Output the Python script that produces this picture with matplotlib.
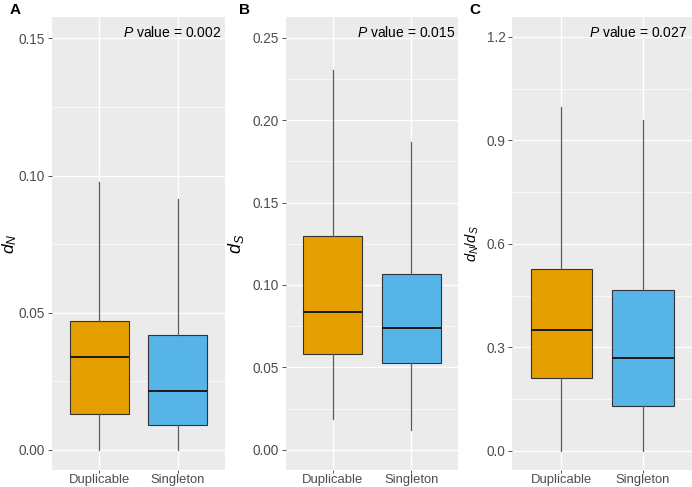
import matplotlib
matplotlib.use("Agg")
import matplotlib.pyplot as plt
import numpy as np

plt.rcParams['font.family'] = ['Liberation Sans', 'DejaVu Sans']
plt.rcParams['mathtext.fontset'] = 'custom'
plt.rcParams['mathtext.it'] = 'Liberation Sans:italic'
plt.rcParams['mathtext.rm'] = 'Liberation Sans'

categories = ["Duplicable", "Singleton"]
colors = ["#E69F00", "#56B4E9"]

# per panel: [low whisker, Q1, median, Q3, high whisker] per category
dN_dup = [0.0, 0.0131, 0.0340, 0.0469, 0.0975]
dN_sing = [0.0, 0.0092, 0.0215, 0.0420, 0.0916]
dS_dup = [0.0187, 0.0579, 0.0837, 0.1299, 0.2304]
dS_sing = [0.0120, 0.0527, 0.0742, 0.1064, 0.1868]
ratio_dup = [0.0, 0.2116, 0.3514, 0.5276, 0.997]
ratio_sing = [0.0, 0.1305, 0.270, 0.465, 0.960]

panel_letters = ["A", "B", "C"]
ylabels = [r"$d_N$", r"$d_S$", r"$d_N/d_S$"]
pvalues = ["0.002", "0.015", "0.027"]
yticks = [[0.00, 0.05, 0.10, 0.15], [0.00, 0.05, 0.10, 0.15, 0.20, 0.25], [0.0, 0.3, 0.6, 0.9, 1.2]]
yticklabels = [["0.00", "0.05", "0.10", "0.15"],
               ["0.00", "0.05", "0.10", "0.15", "0.20", "0.25"],
               ["0.0", "0.3", "0.6", "0.9", "1.2"]]
ylims = [(-0.0073, 0.1578), (-0.0122, 0.2625), (-0.0559, 1.2575)]

data = [(dN_dup, dN_sing), (dS_dup, dS_sing), (ratio_dup, ratio_sing)]

W, H = 692, 487
fig = plt.figure(figsize=(W / 100, H / 100), dpi=100)
axes_px = [(52, 225), (285.7, 458.3), (512.3, 692)]
label_x_px = [19, 246, 481]
label_sizes = [12.5, 13, 10.5]
ptext_right_px = [221, 455, 687]
letter_x_px = [15, 245, 475]
top_px, bot_px = 17, 470

for i, (x0, x1) in enumerate(axes_px):
    ax = fig.add_axes([x0 / W, (H - bot_px) / H, (x1 - x0) / W, (bot_px - top_px) / H])
    ax.set_facecolor("#EBEBEB")
    for s in ax.spines.values():
        s.set_visible(False)
    stats = []
    for cat, vals in zip(categories, data[i]):
        lo, q1, med, q3, hi = vals
        stats.append(dict(label=cat, whislo=lo, q1=q1, med=med, q3=q3, whishi=hi, fliers=[]))
    bp = ax.bxp(stats, positions=[1, 2], widths=0.75, patch_artist=True, showcaps=False,
                boxprops=dict(edgecolor="#333333", linewidth=0.8),
                medianprops=dict(color="#1a1a1a", linewidth=1.4),
                whiskerprops=dict(color="#5a5a5a", linewidth=0.9), zorder=3)
    for patch, c in zip(bp["boxes"], colors):
        patch.set_facecolor(c)
    ax.set_xlim(0.4, 2.6)
    ax.set_ylim(*ylims[i])
    ax.set_yticks(yticks[i])
    ax.set_yticklabels(yticklabels[i])
    mt = yticks[i]
    step = mt[1] - mt[0]
    minors = [m + step / 2 for m in mt[:-1]]
    if mt[-1] + step / 2 < ylims[i][1]:
        minors.append(mt[-1] + step / 2)
    ax.set_yticks(minors, minor=True)
    ax.set_xticks([1, 2])
    ax.set_xticklabels(categories)
    ax.grid(True, which="major", color="white", linewidth=1.0, zorder=0)
    ax.grid(True, which="minor", axis="y", color="white", linewidth=0.5, zorder=0)
    ax.set_axisbelow(True)
    ax.tick_params(axis="y", which="major", length=3, width=0.6, color="#333333",
                   labelsize=9.8, labelcolor="#4D4D4D", pad=2)
    ax.tick_params(axis="x", which="major", length=2.5, width=0.6, color="#333333",
                   labelsize=9.4, labelcolor="#4D4D4D", pad=0.3)
    ax.tick_params(axis="both", which="minor", length=0)
    ax.set_ylabel(ylabels[i], fontsize=label_sizes[i])
    ax.yaxis.set_label_coords((label_x_px[i] - x0) / (x1 - x0), 0.5)
    ax.text((ptext_right_px[i] - x0) / (x1 - x0), 0.965, r"$P$" + " value = " + pvalues[i],
            transform=ax.transAxes, ha="right", va="center", fontsize=10, color="black")
    fig.text(letter_x_px[i] / W, (H - 10) / H, panel_letters[i], fontsize=11, fontweight="bold",
             ha="center", va="center")

fig.savefig("out.png", dpi=100)
